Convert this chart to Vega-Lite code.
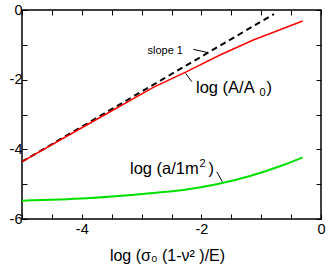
{
  "$schema": "https://vega.github.io/schema/vega-lite/v6.json",
  "width": 299,
  "height": 209,
  "autosize": "none",
  "padding": {"left": 22, "top": 10, "right": 11, "bottom": 47},
  "config": {
    "view": {"stroke": "black", "strokeWidth": 1.5},
    "font": "Liberation Sans",
    "axis": {
      "grid": false,
      "domain": false,
      "tickColor": "black",
      "tickSize": -5,
      "tickWidth": 1,
      "labelFont": "Liberation Sans",
      "labelFontSize": 14.5,
      "labelColor": "black",
      "labelFlush": false,
      "labelOverlap": false,
      "titleFont": "Liberation Sans",
      "titleFontSize": 16,
      "titleFontWeight": "normal",
      "titleColor": "black"
    }
  },
  "datasets": {
    "slope": [
      {"x": -5, "y": -4.355},
      {"x": -0.786, "y": -0.115}
    ],
    "area": [
      {"x": -5, "y": -4.355},
      {"x": -3.918, "y": -3.302},
      {"x": -2.804, "y": -2.219},
      {"x": -2.246, "y": -1.771},
      {"x": -1.689, "y": -1.292},
      {"x": -1.132, "y": -0.861},
      {"x": -0.306, "y": -0.316}
    ],
    "contact": [
      {"x": -5, "y": -5.475},
      {"x": -3.918, "y": -5.406},
      {"x": -2.86, "y": -5.263},
      {"x": -2.303, "y": -5.168},
      {"x": -1.744, "y": -5.004},
      {"x": -1.187, "y": -4.766},
      {"x": -0.63, "y": -4.45},
      {"x": -0.306, "y": -4.229}
    ],
    "pointers": [
      {"x": -2.135, "y": -1.129, "x2": -1.885, "y2": -1.226},
      {"x": -2.263, "y": -1.818, "x2": -2.162, "y2": -2.058},
      {"x": -1.744, "y": -4.642, "x2": -1.65, "y2": -4.929}
    ],
    "mainText": [
      {"x": -2.09, "y": -2.397, "text": "log (A/A"},
      {"x": -0.911, "y": -2.397, "text": ")"},
      {"x": -3.194, "y": -4.709, "text": "log (a/1m"},
      {"x": -1.881, "y": -4.709, "text": ")"}
    ],
    "scriptText": [
      {"x": -1.028, "y": -2.483, "text": "0"},
      {"x": -2.032, "y": -4.516, "text": "2"}
    ],
    "smallLabels": [
      {"x": -2.308, "y": -1.263, "text": "slope 1"}
    ]
  },
  "resolve": {"axis": {"x": "independent", "y": "independent"}},
  "layer": [
    {
      "data": {"name": "slope"},
      "mark": {"type": "line", "color": "black", "strokeWidth": 2, "strokeDash": [6, 4]},
      "encoding": {
        "x": {"field": "x", "type": "quantitative", "scale": {"domain": [-5, 0], "nice": false},
          "axis": {"orient": "bottom", "title": "log (σ₀ (1-ν² )/E)", "values": [-5, -4.5, -4, -3.5, -3, -2.5, -2, -1.5, -1, -0.5, 0],
            "labelExpr": "datum.value % 2 == 0 ? '' + datum.value : ''", "labelPadding": 8, "titlePadding": 12, "titleX": 145}},
        "y": {"field": "y", "type": "quantitative", "scale": {"domain": [-6, 0], "nice": false},
          "axis": {"orient": "left", "title": null, "values": [-6, -5, -4, -3, -2, -1, 0],
            "labelExpr": "datum.value % 2 == 0 ? '' + datum.value : ''", "labelPadding": 5}}
      }
    },
    {
      "data": {"name": "area"},
      "mark": {"type": "line", "color": "#ff0000", "strokeWidth": 1.5},
      "encoding": {
        "x": {"field": "x", "type": "quantitative", "scale": {"domain": [-5, 0], "nice": false},
          "axis": {"orient": "top", "title": null, "labels": false, "values": [-5, -4.5, -4, -3.5, -3, -2.5, -2, -1.5, -1, -0.5, 0]}},
        "y": {"field": "y", "type": "quantitative", "scale": {"domain": [-6, 0], "nice": false},
          "axis": {"orient": "right", "title": null, "labels": false, "values": [-6, -5, -4, -3, -2, -1, 0]}}
      }
    },
    {
      "data": {"name": "contact"},
      "mark": {"type": "line", "color": "#00e000", "strokeWidth": 2, "interpolate": "monotone"},
      "encoding": {
        "x": {"field": "x", "type": "quantitative", "axis": null},
        "y": {"field": "y", "type": "quantitative", "axis": null}
      }
    },
    {
      "data": {"name": "pointers"},
      "mark": {"type": "rule", "color": "black", "strokeWidth": 1},
      "encoding": {
        "x": {"field": "x", "type": "quantitative", "axis": null},
        "y": {"field": "y", "type": "quantitative", "axis": null},
        "x2": {"field": "x2"},
        "y2": {"field": "y2"}
      }
    },
    {
      "data": {"name": "mainText"},
      "mark": {"type": "text", "align": "left", "baseline": "alphabetic", "fontSize": 16.5, "font": "Liberation Sans", "color": "black"},
      "encoding": {
        "x": {"field": "x", "type": "quantitative", "axis": null},
        "y": {"field": "y", "type": "quantitative", "axis": null},
        "text": {"field": "text"}
      }
    },
    {
      "data": {"name": "scriptText"},
      "mark": {"type": "text", "align": "left", "baseline": "alphabetic", "fontSize": 11, "font": "Liberation Sans", "color": "black"},
      "encoding": {
        "x": {"field": "x", "type": "quantitative", "axis": null},
        "y": {"field": "y", "type": "quantitative", "axis": null},
        "text": {"field": "text"}
      }
    },
    {
      "data": {"name": "smallLabels"},
      "mark": {"type": "text", "align": "right", "baseline": "alphabetic", "fontSize": 11, "font": "Liberation Sans", "color": "black"},
      "encoding": {
        "x": {"field": "x", "type": "quantitative", "axis": null},
        "y": {"field": "y", "type": "quantitative", "axis": null},
        "text": {"field": "text"}
      }
    }
  ]
}
